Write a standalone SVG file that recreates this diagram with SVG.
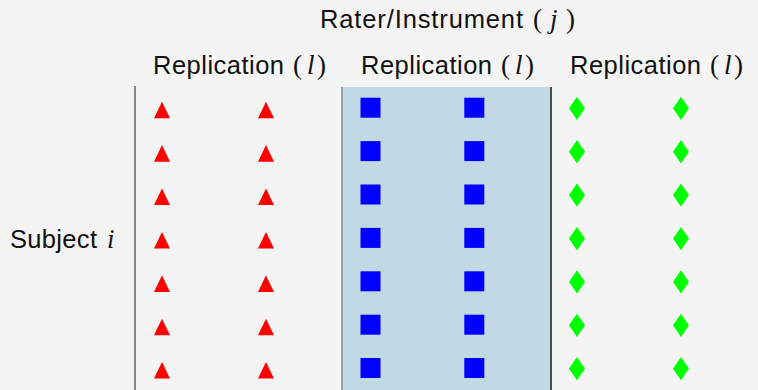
<svg xmlns="http://www.w3.org/2000/svg" xmlns:xlink="http://www.w3.org/1999/xlink" width="758" height="390" viewBox="0 0 758 390">
<style>
.lab{font-family:"Liberation Sans","DejaVu Sans",sans-serif;font-size:25.5px;fill:#111}
.m{font-family:"Liberation Serif","DejaVu Serif",serif;font-size:27px;fill:#111}
.mi{font-style:italic}
</style>
<defs>
<polygon id="tri" points="0,-6 8,10.6 -8,10.6" fill="#ff0000"/>
<rect id="sq" x="-10" y="-10" width="20" height="20" fill="#0000ff"/>
<polygon id="dia" points="0,-11 8,0.6 0,12.3 -8,0.6" fill="#00ff00"/>
</defs>
<rect width="758" height="390" fill="#f4f4f4"/>
<g id="panel">
<rect x="342" y="87" width="209" height="305" fill="#c1d9e5"/>
<line x1="342" y1="87" x2="342" y2="390" stroke="#8a8a8a" stroke-width="1.5"/>
<line x1="551" y1="87" x2="551" y2="390" stroke="#1a1a1a" stroke-width="1.5"/>
<line x1="135" y1="86" x2="135" y2="390" stroke="#666" stroke-width="1.5"/>
</g>
<g id="labels">
<text class="lab" x="320" y="28" textLength="203">Rater/Instrument</text>
<text class="m" y="28"><tspan x="533">(</tspan><tspan class="mi" x="550">j</tspan><tspan x="566">)</tspan></text>
<text class="lab" x="153" y="74" textLength="131">Replication</text>
<text class="m" y="74"><tspan x="293">(</tspan><tspan class="mi" x="307">l</tspan><tspan x="317">)</tspan></text>
<text class="lab" x="361" y="74" textLength="131">Replication</text>
<text class="m" y="74"><tspan x="501">(</tspan><tspan class="mi" x="515">l</tspan><tspan x="525">)</tspan></text>
<text class="lab" x="570" y="74" textLength="131">Replication</text>
<text class="m" y="74"><tspan x="710">(</tspan><tspan class="mi" x="724">l</tspan><tspan x="734">)</tspan></text>
<text class="lab" x="10" y="248" textLength="87">Subject</text>
<text class="m mi" x="107" y="248">i</text>
</g>
<g id="red">
<use href="#tri" x="162" y="107.7"/><use href="#tri" x="266" y="107.7"/>
<use href="#tri" x="162" y="151.1"/><use href="#tri" x="266" y="151.1"/>
<use href="#tri" x="162" y="194.5"/><use href="#tri" x="266" y="194.5"/>
<use href="#tri" x="162" y="237.9"/><use href="#tri" x="266" y="237.9"/>
<use href="#tri" x="162" y="281.3"/><use href="#tri" x="266" y="281.3"/>
<use href="#tri" x="162" y="324.7"/><use href="#tri" x="266" y="324.7"/>
<use href="#tri" x="162" y="368"/><use href="#tri" x="266" y="368"/>
</g>
<g id="blue">
<use href="#sq" x="370.5" y="107.7"/><use href="#sq" x="474.3" y="107.7"/>
<use href="#sq" x="370.5" y="151.1"/><use href="#sq" x="474.3" y="151.1"/>
<use href="#sq" x="370.5" y="194.5"/><use href="#sq" x="474.3" y="194.5"/>
<use href="#sq" x="370.5" y="237.9"/><use href="#sq" x="474.3" y="237.9"/>
<use href="#sq" x="370.5" y="281.3"/><use href="#sq" x="474.3" y="281.3"/>
<use href="#sq" x="370.5" y="324.7"/><use href="#sq" x="474.3" y="324.7"/>
<use href="#sq" x="370.5" y="368"/><use href="#sq" x="474.3" y="368"/>
</g>
<g id="green">
<use href="#dia" x="577" y="107.7"/><use href="#dia" x="681" y="107.7"/>
<use href="#dia" x="577" y="151.1"/><use href="#dia" x="681" y="151.1"/>
<use href="#dia" x="577" y="194.5"/><use href="#dia" x="681" y="194.5"/>
<use href="#dia" x="577" y="237.9"/><use href="#dia" x="681" y="237.9"/>
<use href="#dia" x="577" y="281.3"/><use href="#dia" x="681" y="281.3"/>
<use href="#dia" x="577" y="324.7"/><use href="#dia" x="681" y="324.7"/>
<use href="#dia" x="577" y="368"/><use href="#dia" x="681" y="368"/>
</g>
</svg>
